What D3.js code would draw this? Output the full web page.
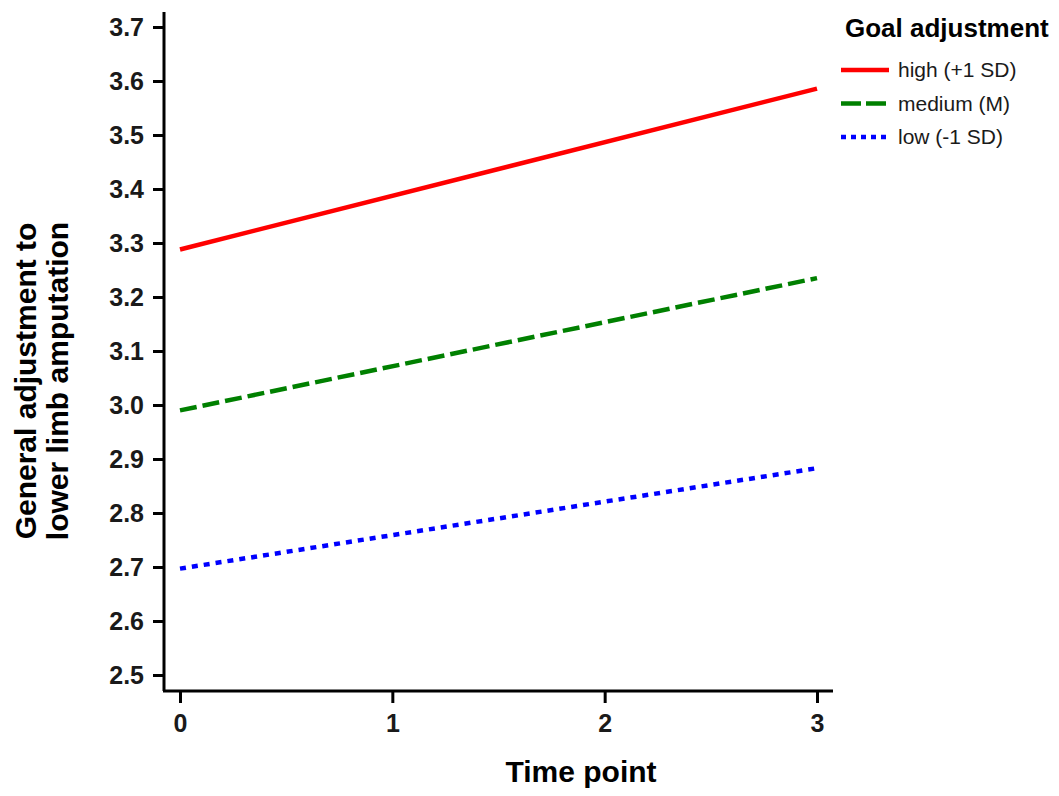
<!DOCTYPE html>
<html>
<head>
<meta charset="utf-8">
<script src="https://cdn.jsdelivr.net/npm/d3@7"></script>
<style>
body { margin: 0; background: #fff; }
text { font-family: "Liberation Sans", Arial, sans-serif; }
</style>
</head>
<body>
<script>
var width = 1059, height = 796

// data
var timePoints = [0, 3]
var seriesNames = ["high (+1 SD)", "medium (M)", "low (-1 SD)"]
var highVals = [3.288, 3.586]
var mediumVals = [2.990, 3.235]
var lowVals = [2.697, 2.883]
var xTicks = [0, 1, 2, 3]
var yTicks = [2.5, 2.6, 2.7, 2.8, 2.9, 3.0, 3.1, 3.2, 3.3, 3.4, 3.5, 3.6, 3.7]

var colors = ["#ff0000", "#008000", "#0000ff"]
var dashes = [null, "17,6", "6,6"]

var series = [highVals, mediumVals, lowVals].map(function(v, i) {
	return {name: seriesNames[i], values: v.map(function(y, j) { return {x: timePoints[j], y: y} })}
})

var svg = d3.select("body")
.append("svg")
.attr("width", width)
.attr("height", height)

var xScale = d3.scaleLinear()
.domain([0, 3])
.range([180, 817])

var yScale = d3.scaleLinear()
.domain([2.5, 3.7])
.range([675, 27])

//y axis
var yAxis = svg.append("g")
.attr("transform", "translate(164,0)")
.call(d3.axisLeft(yScale).tickValues(yTicks).tickFormat(d3.format(".1f")).tickSize(11).tickSizeOuter(0))
yAxis.select(".domain").remove()
yAxis.append("line")
	.attr("x1", 0).attr("x2", 0)
	.attr("y1", 12).attr("y2", 691)
	.attr("stroke", "black").attr("stroke-width", 3)

//x axis
var xAxis = svg.append("g")
.attr("transform", "translate(0,691)")
.call(d3.axisBottom(xScale).tickValues(xTicks).tickFormat(d3.format("d")).tickSize(12).tickSizeOuter(0))
xAxis.select(".domain").remove()
xAxis.append("line")
	.attr("x1", 163).attr("x2", 833)
	.attr("y1", 0).attr("y2", 0)
	.attr("stroke", "black").attr("stroke-width", 3)

svg.selectAll(".tick line").attr("stroke", "black").attr("stroke-width", 3)
yAxis.selectAll(".tick text")
	.attr("font-size", 25).attr("font-weight", "bold").attr("fill", "#1a1a1a").attr("x", -20)
xAxis.selectAll(".tick text")
	.attr("font-size", 25).attr("font-weight", "bold").attr("fill", "#1a1a1a").attr("y", 23)

//lines
var line = d3.line()
.x(function(d) { return xScale(d.x) })
.y(function(d) { return yScale(d.y) })

svg.selectAll(".seriesLine")
.data(series)
.enter()
.append("path")
.attr("class", "seriesLine")
.attr("d", function(s) { return line(s.values) })
.attr("fill", "none")
.attr("stroke", function(s, i) { return colors[i] })
.attr("stroke-width", 4.5)
.attr("stroke-dasharray", function(s, i) { return dashes[i] })

//axis titles
svg.append("text")
	.attr("x", 581).attr("y", 782)
	.attr("text-anchor", "middle")
	.attr("font-size", 30).attr("font-weight", "bold")
	.text("Time point")

var yTitle = svg.append("text")
	.attr("transform", "translate(36,381) rotate(-90)")
	.attr("text-anchor", "middle")
	.attr("font-size", 30).attr("font-weight", "bold")
yTitle.append("tspan").attr("x", 0).attr("y", 0).text("General adjustment to")
yTitle.append("tspan").attr("x", 0).attr("y", 32).text("lower limb amputation")

//legend
svg.append("text")
	.attr("x", 845).attr("y", 37)
	.attr("font-size", 26).attr("font-weight", "bold")
	.text("Goal adjustment")

var legend = svg.selectAll(".legendItem")
.data(series)
.enter()
.append("g")
.attr("class", "legendItem")
.attr("transform", function(s, i) { return "translate(841," + (70 + i * 33.5) + ")" })

legend.append("line")
	.attr("x1", 0).attr("x2", 48)
	.attr("stroke", function(s, i) { return colors[i] })
	.attr("stroke-width", 4.5)
	.attr("stroke-dasharray", function(s, i) { return i == 1 ? "20,5" : dashes[i] == null ? null : "5,5" })

legend.append("text")
	.attr("x", 57).attr("y", 7)
	.attr("font-size", 21).attr("fill", "#1a1a1a")
	.text(function(s) { return s.name })
</script>
</body>
</html>
